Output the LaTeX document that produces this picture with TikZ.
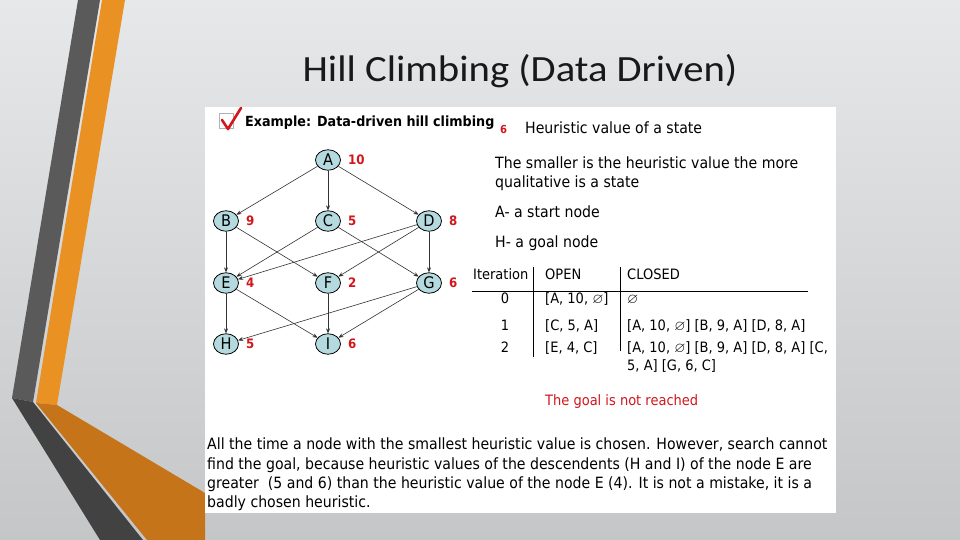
\documentclass[tikz,border=0pt]{standalone}
\usepackage{amssymb}
\usepackage{fontspec}
\setmainfont{DejaVu Sans}[FakeStretch=0.91]
\newfontfamily\titlefont{Carlito}[FakeStretch=1.1]
\usetikzlibrary{positioning,shapes.geometric,arrows.meta}
\definecolor{bgtop}{HTML}{E7E8E9}
\definecolor{bgbot}{HTML}{C4C6C7}
\definecolor{stripedark}{HTML}{5A5A5A}
\definecolor{stripedeep}{HTML}{424242}
\definecolor{stripeorange}{HTML}{EA9123}
\definecolor{stripeburnt}{HTML}{C6741A}
\definecolor{nodeblue}{HTML}{B4DADF}
\definecolor{hred}{HTML}{D2161B}

\begin{document}
\begin{tikzpicture}[x=1pt,y=-1pt,
  hnode/.style={ellipse,draw,line width=0.8pt,fill=nodeblue,inner sep=0pt,minimum width=25pt,minimum height=20.5pt,font=\fontsize{16}{16}\selectfont},
  hval/.style={text=hred,inner sep=0pt,font=\bfseries\fontsize{13}{13}\selectfont},
  link/.style={-{Stealth[length=5pt,width=4pt]},draw=black!80,line width=0.6pt},
  txt/.style={anchor=base west,inner sep=0pt,font=\fontsize{15.5}{18}\selectfont},
  tab/.style={anchor=base west,inner sep=0pt,font=\fontsize{14.3}{18}\selectfont}]
% slide background and stripes
\shade[top color=bgtop,bottom color=bgbot] (0,0) rectangle (960,540);
\fill[stripedark] (78,0) -- (100,0) -- (33,402) -- (12,398) -- cycle;
\fill[stripeorange] (102,0) -- (125,0) -- (57,405) -- (36,403) -- cycle;
\fill[stripedeep] (12,398) -- (33,402) -- (143,540) -- (100,540) -- cycle;
\fill[stripeburnt] (36,403) -- (57,405) -- (205,493) -- (205,540) -- (147,540) -- cycle;
\node[anchor=base,text=black!90] (title) at (520,82) {\titlefont\fontsize{37}{37}\selectfont Hill Climbing (Data Driven)};
% white panel
\fill[white] (205,107) rectangle (836,513);
\draw[gray!60] (219,113) rectangle (233,128);
\draw[hred,line width=2.6pt,line cap=round,line join=round] (222,120) -- (228,129) -- (241,108);
\node[txt,font=\bfseries\fontsize{14}{18}\selectfont] (heading) at (245,127) {Example: Data-driven hill climbing};

% graph
\node[hnode] (A) at (328,160) {A};
\node[hnode] (B) at (226,221) {B};
\node[hnode] (C) at (328,221) {C};
\node[hnode] (D) at (429,221) {D};
\node[hnode] (E) at (226,283) {E};
\node[hnode] (F) at (328,283) {F};
\node[hnode] (G) at (429,283) {G};
\node[hnode] (H) at (226,344) {H};
\node[hnode] (I) at (328,344) {I};
\node[hval,right=7pt of A] (vA) {10};
\node[hval,right=7pt of B] (vB) {9};
\node[hval,right=7pt of C] (vC) {5};
\node[hval,right=7pt of D] (vD) {8};
\node[hval,right=7pt of E] (vE) {4};
\node[hval,right=7pt of F] (vF) {2};
\node[hval,right=7pt of G] (vG) {6};
\node[hval,right=7pt of H] (vH) {5};
\node[hval,right=7pt of I] (vI) {6};
\draw[link] (A) -- (B);
\draw[link] (A) -- (C);
\draw[link] (A) -- (D);
\draw[link] (B) -- (E);
\draw[link] (B) -- (F);
\draw[link] (C) -- (E);
\draw[link] (C) -- (G);
\draw[link] (D) -- (E);
\draw[link] (D) -- (F);
\draw[link] (D) -- (G);
\draw[link] (E) -- (H);
\draw[link] (E) -- (I);
\draw[link] (F) -- (I);
\draw[link] (G) -- (H);
\draw[link] (G) -- (I);

% legend
\node[hval,anchor=base west,font=\bfseries\fontsize{11}{11}\selectfont] (six) at (500,134) {6};
\node[txt] (heur) at (525,134) {Heuristic value of a state};
\node[txt] (small1) at (495,169) {The smaller is the heuristic value the more};
\node[txt] (small2) at (495,187) {qualitative is a state};
\node[txt] (start) at (495,217) {A- a start node};
\node[txt] (goal) at (495,247) {H- a goal node};

% table
\draw[line width=0.8pt] (472,291) -- (808,291);
\draw[line width=0.8pt] (533,267) -- (533,357);
\draw[line width=0.8pt] (620,267) -- (620,351);
\node[tab] (iter) at (473,279) {Iteration};
\node[tab] (open) at (545,279) {OPEN};
\node[tab] (closed) at (627,279) {CLOSED};
\node[tab,anchor=base] (r0) at (505,303) {0};
\node[tab,anchor=base] (r1) at (505,330) {1};
\node[tab,anchor=base] (r2) at (505,352) {2};
\node[tab] (o0) at (545,303) {[A, 10, $\varnothing$]};
\node[tab] (o1) at (545,330) {[C, 5, A]};
\node[tab] (o2) at (545,352) {[E, 4, C]};
\node[tab] (c0) at (627,303) {$\varnothing$};
\node[tab] (c1) at (627,330) {[A, 10, $\varnothing$] [B, 9, A] [D, 8, A]};
\node[tab] (c2) at (627,352) {[A, 10, $\varnothing$] [B, 9, A] [D, 8, A] [C,};
\node[tab] (c2b) at (627,370) {5, A] [G, 6, C]};
\node[tab,text=hred] (notreached) at (545,405) {The goal is not reached};

% explanation
\node[txt,anchor=north west,align=left,font=\fontsize{15.5}{19.3}\selectfont] (note) at (207,438)
  {All the time a node with the smallest heuristic value is chosen. However, search cannot\\
   find the goal, because heuristic values of the descendents (H and I) of the node E are\\
   greater\ \ (5 and 6) than the heuristic value of the node E (4). It is not a mistake, it is a\\
   badly chosen heuristic.};
\end{tikzpicture}
\end{document}
